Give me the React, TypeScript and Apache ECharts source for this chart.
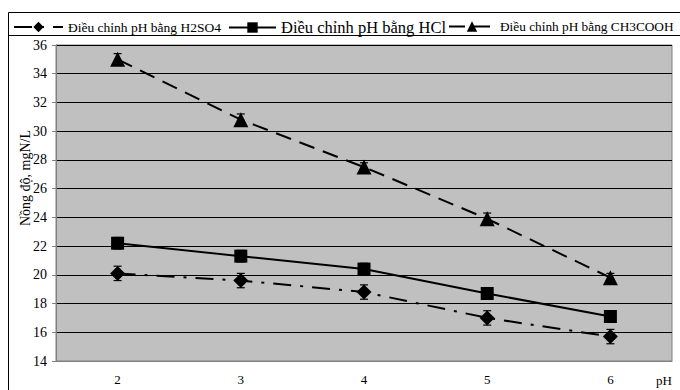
import React, { useEffect, useRef } from "react";
import * as echarts from "echarts";

const categories = ["2", "3", "4", "5", "6"];
const h2so4 = [20.1, 19.6, 18.8, 17.0, 15.7];
const h2so4Err = [0.5, 0.5, 0.5, 0.5, 0.5];
const hcl = [22.2, 21.3, 20.4, 18.7, 17.1];
const hclErr = [0.4, 0.4, 0.4, 0.4, 0.4];
const ch3cooh = [35.0, 30.8, 27.5, 23.9, 19.8];
const ch3Err = [0.4, 0.4, 0.3, 0.4, 0.3];

const names = [
  "Điều chỉnh pH bằng H2SO4",
  "Điều chỉnh pH bằng HCl",
  "Điều chỉnh pH bằng CH3COOH",
];

const FONT = "Liberation Serif";

function errSeries(vals: number[], errs: number[]) {
  return {
    type: "custom",
    z: 3,
    silent: true,
    data: vals.map((v, i) => [i, v - errs[i], v + errs[i]]),
    renderItem: (params: any, api: any) => {
      const x = api.value(0);
      const lo = api.coord([x, api.value(1)]);
      const hi = api.coord([x, api.value(2)]);
      const w = 4;
      const st = { stroke: "#000", lineWidth: 1.2 };
      return {
        type: "group",
        children: [
          { type: "line", shape: { x1: lo[0], y1: lo[1], x2: hi[0], y2: hi[1] }, style: st },
          { type: "line", shape: { x1: lo[0] - w, y1: lo[1], x2: lo[0] + w, y2: lo[1] }, style: st },
          { type: "line", shape: { x1: hi[0] - w, y1: hi[1], x2: hi[0] + w, y2: hi[1] }, style: st },
        ],
      };
    },
  };
}

function legendAt(name: string, left: number, top: number, fontSize: number, width: number) {
  return {
    left,
    top,
    padding: 0,
    itemWidth: width,
    itemHeight: 13,
    data: [name],
    textStyle: { fontFamily: FONT, fontSize, color: "#000" },
  };
}

export default function App() {
  const ref = useRef<HTMLDivElement>(null);
  useEffect(() => {
    if (!ref.current) return;
    const chart = echarts.init(ref.current, undefined, { renderer: "svg" });
    chart.setOption({
      animation: false,
      textStyle: { fontFamily: FONT },
      grid: {
        left: 56,
        top: 45,
        right: 8,
        bottom: 29,
        show: true,
        backgroundColor: "#c0c0c0",
        borderColor: "#808080",
        borderWidth: 1,
      },
      legend: [
        legendAt(names[0], 13, 20, 13.5, 49),
        legendAt(names[1], 228, 19, 16.5, 47),
        legendAt(names[2], 448, 20, 13.3, 46),
      ],
      xAxis: {
        type: "category",
        data: categories,
        boundaryGap: true,
        axisLine: { lineStyle: { color: "#808080" } },
        axisTick: { length: 5, lineStyle: { color: "#808080" } },
        axisLabel: { color: "#000", fontSize: 13, margin: 12, fontFamily: FONT },
        splitLine: { show: false },
      },
      yAxis: {
        type: "value",
        min: 14,
        max: 36,
        interval: 2,
        axisLine: { show: true, lineStyle: { color: "#808080" } },
        axisTick: { show: true, length: 4, lineStyle: { color: "#808080" } },
        axisLabel: { color: "#000", fontSize: 14, margin: 9, fontFamily: FONT },
        splitLine: { lineStyle: { color: "#000", width: 1 } },
      },
      graphic: [
        {
          type: "rect",
          shape: { x: 8.5, y: 12.5, width: 700, height: 400 },
          style: { fill: "none", stroke: "#000", lineWidth: 1 },
          silent: true,
        },
        {
          type: "line",
          shape: { x1: 8, y1: 35.5, x2: 680, y2: 35.5 },
          style: { stroke: "#000", lineWidth: 1 },
          silent: true,
        },
        {
          type: "text",
          x: 25,
          y: 178,
          rotation: Math.PI / 2,
          style: {
            text: "Nồng độ, mgN/L",
            fontFamily: FONT,
            fontSize: 14,
            fill: "#000",
            align: "center",
            verticalAlign: "middle",
          },
          silent: true,
        },
        {
          type: "text",
          x: 664,
          y: 380,
          style: {
            text: "pH",
            fontFamily: FONT,
            fontSize: 13,
            fill: "#000",
            align: "center",
            verticalAlign: "middle",
          },
          silent: true,
        },
      ],
      series: [
        {
          name: names[0],
          type: "line",
          data: h2so4,
          symbol: "diamond",
          symbolSize: 15,
          z: 4,
          itemStyle: { color: "#000" },
          lineStyle: { color: "#000", width: 2, type: [18, 9, 3, 9] },
        },
        {
          name: names[1],
          type: "line",
          data: hcl,
          symbol: "rect",
          symbolSize: 13,
          z: 4,
          itemStyle: { color: "#000" },
          lineStyle: { color: "#000", width: 2, type: "solid" },
        },
        {
          name: names[2],
          type: "line",
          data: ch3cooh,
          symbol: "triangle",
          symbolSize: 15,
          z: 4,
          itemStyle: { color: "#000" },
          lineStyle: { color: "#000", width: 2, type: [16, 9] },
        },
        errSeries(h2so4, h2so4Err),
        errSeries(hcl, hclErr),
        errSeries(ch3cooh, ch3Err),
      ],
    });
    return () => chart.dispose();
  }, []);
  return <div ref={ref} style={{ width: 680, height: 390, position: "absolute", left: 0, top: 0 }} />;
}
